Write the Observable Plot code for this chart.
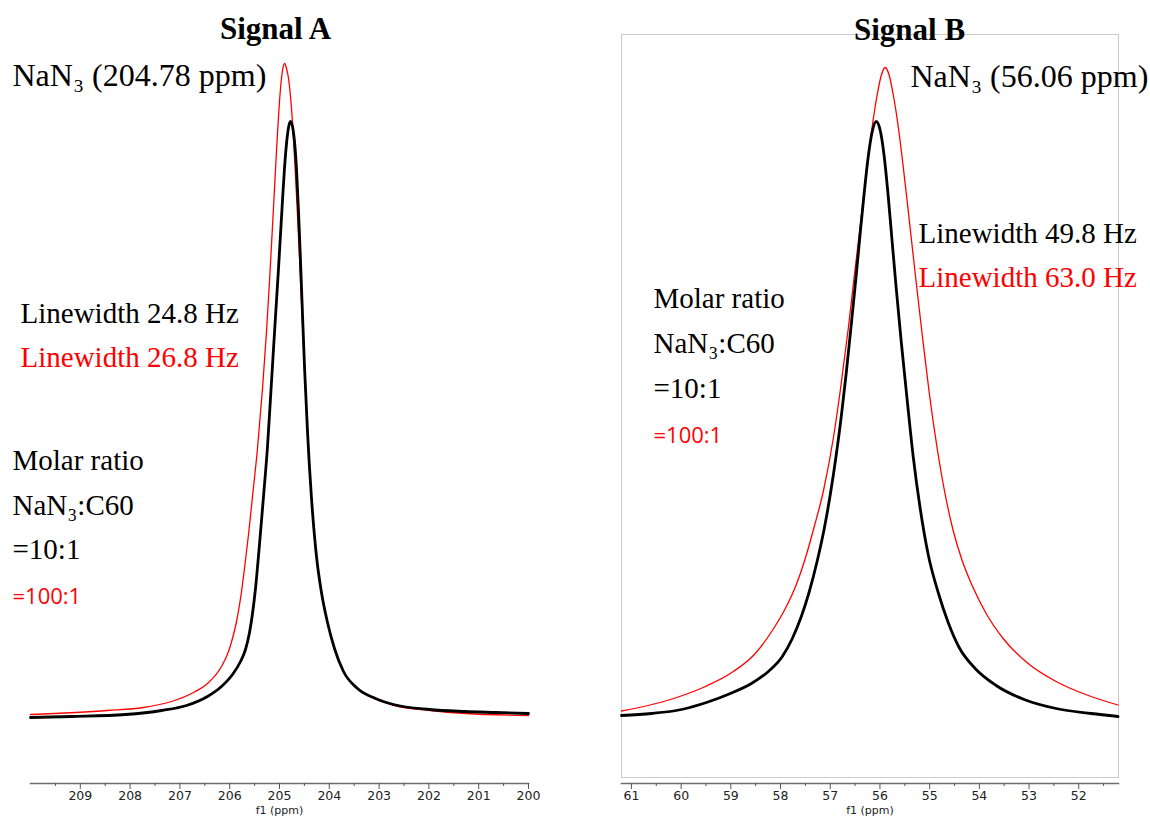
<!DOCTYPE html>
<html><head><meta charset="utf-8">
<script src="https://cdn.jsdelivr.net/npm/d3@7"></script>
<script src="https://cdn.jsdelivr.net/npm/@observablehq/plot@0.6"></script>
<style>
body{margin:0;background:#fff;}
#wrap{position:relative;width:1150px;height:820px;overflow:hidden;background:#fff;}
#a,#b{position:absolute;top:0;}
#a{left:0}#b{left:575px}
</style></head><body><div id="wrap"><div id="a"></div><div id="b"></div></div>
<script>
// ---------- data ----------
// Signal A (ppm, intensity in arbitrary units)
const ppmA_black = [210.000,209.177,208.092,207.369,206.867,206.446,206.165,205.944,205.783,205.683,205.602,205.542,205.482,205.402,205.321,205.241,205.181,205.120,205.060,205.020,204.980,204.940,204.900,204.859,204.819,204.779,
  204.739,204.699,204.659,204.618,204.578,204.538,204.498,204.438,204.357,204.257,204.157,204.036,203.896,203.715,203.434,203.072,202.711,201.988,201.285,200.663,200.000];
const intA_black = [-1,0,2,6,11,20,30,42,55,67,84,103,128,172,220,270,318,368,416,448,482,516,548,573,589,595,
  590,575,548,505,455,402,350,285,218,160,124,94,68,45,28,18,12,7,5,4,3];
const ppmA_red = [210.000,208.454,207.731,207.169,206.727,206.446,206.165,206.024,205.944,205.863,205.783,205.703,205.622,205.542,205.442,205.341,205.261,205.201,205.141,205.100,205.060,205.020,204.980,204.940,204.900,
  204.859,204.819,204.779,204.739,204.699,204.649,204.598,204.538,204.478,204.418,204.337,204.237,204.137,204.016,203.876,203.695,203.414,203.052,202.691,201.968,201.265,200.000];
const intA_red = [2,6,9,15,24,33,50,65,78,95,118,148,182,220,268,328,385,435,490,528,566,600,628,646,653,
  648,638,620,594,560,512,458,392,326,266,203,150,118,90,65,43,27,17,11,6,3,1];
// Signal B
const ppmB_black = [61.200,60.597,59.994,59.491,59.009,58.587,58.245,57.964,57.763,57.582,57.421,57.260,57.120,56.999,56.878,56.778,56.677,56.577,56.476,56.396,56.316,56.235,56.155,56.074,
  55.994,55.914,55.833,55.753,55.672,55.572,55.451,55.331,55.190,55.029,54.828,54.627,54.406,54.084,53.662,53.099,52.456,51.753,51.210];
const intB_black = [1,3,7,14,23,33,45,60,78,100,125,156,188,222,262,300,344,392,442,484,524,560,585,595,
  586,560,520,474,428,375,316,260,208,162,124,94,69,48,31,17,8,3,0];
const ppmB_red = [61.200,60.215,59.512,58.949,58.527,58.165,57.883,57.682,57.502,57.321,57.140,56.939,56.798,56.637,56.517,56.436,56.356,56.255,56.155,56.054,55.974,55.893,
  55.813,55.733,55.632,55.532,55.431,55.351,55.270,55.150,55.009,54.848,54.687,54.527,54.346,54.145,53.863,53.522,53.019,52.456,51.753,51.210];
const intB_red = [5.5,17,30,45,62,86,110,132,158,190,225,278,326,388,440,474,508,550,590,622,641,649,
  641,622,590,550,506,470,434,382,324,268,222,186,156,131,103,78,53,35,20,11.5];

// axis ticks
const majorA = [209,208,207,206,205,204,203,202,201,200];
const minorA = [209.5,208.5,207.5,206.5,205.5,204.5,203.5,202.5,201.5,200.5];
const majorB = [61,60,59,58,57,56,55,54,53,52];
const minorB = [60.5,59.5,58.5,57.5,56.5,55.5,54.5,53.5,52.5,51.5];
const domainA = [210, 200];
const domainB = [61.2, 51.2];
const yDomain = [-67, 696];

// labels
const axisLabel = "f1 (ppm)";
const labelsA = ["Signal A", "NaN\u2083 (204.78 ppm)", "Linewidth 24.8 Hz", "Linewidth 26.8 Hz", "Molar ratio", "NaN\u2083:C60", "=10:1", "=100:1"];
const labelsB = ["Signal B", "NaN\u2083 (56.06 ppm)", "Linewidth 49.8 Hz", "Linewidth 63.0 Hz", "Molar ratio", "NaN\u2083:C60", "=10:1", "=100:1"];

// ---------- drawing ----------
const serif = "'Liberation Serif','Times New Roman',Times,serif";
const sans = "'Open Sans','Noto Sans',sans-serif";
const axisFont = "'DejaVu Sans',Verdana,sans-serif";
const pairs = (xs, ys) => xs.map((x, i) => ({x, y: ys[i]}));

const T = (s, dx, dy, o = {}) => Plot.text([s], {
  frameAnchor: "top-left", dx, dy, text: d => d, textAnchor: "start", lineAnchor: "bottom",
  fontFamily: serif, fontSize: 29, fill: "#000", ...o
});

function panel({domain, major, minor, red, black, boxed, marginLeft, marginRight, texts}) {
  return Plot.plot({
    width: 575, height: 820,
    marginTop: 20, marginBottom: 37, marginLeft, marginRight,
    style: {background: "#fff", fontFamily: axisFont, fontSize: "12px", overflow: "visible"},
    x: {domain, label: null},
    y: {domain: yDomain, axis: null},
    marks: [
      boxed ? Plot.frame({stroke: "#cccccc", strokeWidth: 1, insetTop: 14, insetBottom: 6}) : null,
      Plot.frame({anchor: "bottom", stroke: "#6e6e6e", strokeWidth: 1.6}),
      Plot.axisX({ticks: minor, tickSize: 3, text: null, label: null, stroke: "#555"}),
      Plot.axisX({ticks: major, tickSize: 6, tickPadding: 2, tickFormat: d => String(d), label: null,
        stroke: "#555", fill: "#222", fontFamily: axisFont, fontSize: 12.5}),
      Plot.text([axisLabel], {frameAnchor: "bottom", dy: 23, text: d => d, lineAnchor: "top",
        fontFamily: axisFont, fontSize: 11, fill: "#222"}),
      Plot.line(red, {x: "x", y: "y", stroke: "#ff0000", strokeWidth: 1.3, curve: "monotone-x"}),
      Plot.line(black, {x: "x", y: "y", stroke: "#000", strokeWidth: 2.8, curve: "monotone-x"}),
      ...texts
    ]
  });
}

const L = labelsA;
const plotA = panel({
  domain: domainA, major: majorA, minor: minorA,
  red: pairs(ppmA_red, intA_red), black: pairs(ppmA_black, intA_black),
  boxed: false, marginLeft: 30, marginRight: 47,
  texts: [
    T(L[0], 245, 18, {textAnchor: "middle", fontWeight: "bold", fontSize: 31}),
    T(L[1], -18, 65, {fontSize: 32}),
    T(L[2], -10, 302),
    T(L[3], -10, 346, {fill: "#ff0000"}),
    T(L[4], -18, 449),
    T(L[5], -18, 494),
    T(L[6], -18, 538),
    T(L[7], -18, 583, {fill: "#ff0000", fontFamily: sans, fontSize: 22})
  ]
});
document.getElementById("a").appendChild(plotA);

const M = labelsB;
const plotB = panel({
  domain: domainB, major: majorB, minor: minorB,
  red: pairs(ppmB_red, intB_red), black: pairs(ppmB_black, intB_black),
  boxed: true, marginLeft: 46, marginRight: 32,
  texts: [
    T(M[0], 288, 19, {textAnchor: "middle", fontWeight: "bold", fontSize: 31}),
    T(M[1], 289, 66, {fontSize: 32}),
    T(M[2], 297, 222),
    T(M[3], 297, 266, {fill: "#ff0000"}),
    T(M[4], 32, 287),
    T(M[5], 32, 332),
    T(M[6], 32, 377),
    T(M[7], 32, 422, {fill: "#ff0000", fontFamily: sans, fontSize: 22})
  ]
});
document.getElementById("b").appendChild(plotB);
</script></body></html>
